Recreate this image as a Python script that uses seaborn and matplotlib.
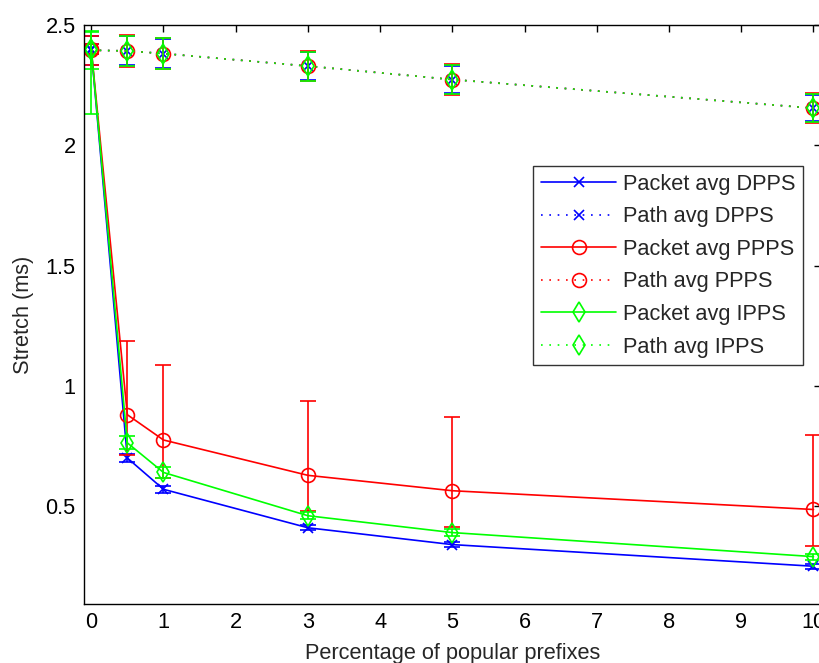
# Stretch vs percentage of popular prefixes (MATLAB-style errorbar chart)
import matplotlib
matplotlib.use("Agg")
import matplotlib.pyplot as plt
import seaborn as sns

# ------------------------------------------
# Data
# ------------------------------------------
x = [0, 0.5, 1, 3, 5, 10]

packet_dpps = [2.40, 0.70, 0.57, 0.41, 0.34, 0.25]
packet_dpps_err = [0.02, 0.017, 0.015, 0.01, 0.01, 0.01]
path_dpps = [2.396, 2.393, 2.382, 2.33, 2.274, 2.155]
path_dpps_err = [0.06, 0.06, 0.06, 0.058, 0.058, 0.055]

packet_ppps = [2.40, 0.88, 0.775, 0.628, 0.564, 0.486]
packet_ppps_lo = [0.02, 0.167, 0.157, 0.15, 0.149, 0.152]
packet_ppps_hi = [0.02, 0.308, 0.31, 0.308, 0.308, 0.308]
path_ppps = [2.396, 2.393, 2.382, 2.33, 2.274, 2.155]
path_ppps_err = [0.06, 0.065, 0.065, 0.063, 0.066, 0.063]

packet_ipps = [2.40, 0.763, 0.64, 0.46, 0.39, 0.29]
packet_ipps_lo = [0.27, 0.027, 0.023, 0.015, 0.015, 0.012]
packet_ipps_hi = [0.07, 0.027, 0.023, 0.015, 0.015, 0.012]
path_ipps = [2.396, 2.393, 2.382, 2.33, 2.274, 2.155]
path_ipps_err = [0.08, 0.063, 0.063, 0.06, 0.06, 0.057]

labels = ["Packet avg DPPS", "Path avg DPPS", "Packet avg PPPS",
          "Path avg PPPS", "Packet avg IPPS", "Path avg IPPS"]

# ------------------------------------------
# Style
# ------------------------------------------
sns.set_style("white")
plt.rcParams["font.family"] = ["Liberation Sans", "DejaVu Sans"]
plt.rcParams["font.size"] = 15.7

fig = plt.figure(figsize=(8.19, 6.63), dpi=100)
ax = fig.add_axes([0.1026, 0.089, 0.8995, 0.873])

dotted = (0, (1, 4))
series = [
    (packet_dpps, [packet_dpps_err, packet_dpps_err], "#0000ff", "x", "-"),
    (path_dpps, [path_dpps_err, path_dpps_err], "#0000ff", "x", dotted),
    (packet_ppps, [packet_ppps_lo, packet_ppps_hi], "#ff0000", "o", "-"),
    (path_ppps, [path_ppps_err, path_ppps_err], "#ff0000", "o", dotted),
    (packet_ipps, [packet_ipps_lo, packet_ipps_hi], "#00ff00", "d", "-"),
    (path_ipps, [path_ipps_err, path_ipps_err], "#00ff00", "d", dotted),
]

for (y, err, color, marker, ls), label in zip(series, labels):
    ax.errorbar(x, y, yerr=err, fmt="none", ecolor=color,
                elinewidth=1.2, capsize=6, capthick=1.2)
    sns.lineplot(x=x, y=y, ax=ax, color=color, linestyle=ls, linewidth=1.2,
                 marker=marker, markersize=10 if marker != "x" else 7,
                 markerfacecolor="none", markeredgecolor=color,
                 markeredgewidth=1.2, label=label)

# ------------------------------------------
# Axes
# ------------------------------------------
ax.set_xlim(-0.1, 10.1)
ax.set_ylim(0.093, 2.5)
ax.set_xticks(range(0, 11))
ax.set_yticks([0.5, 1, 1.5, 2, 2.5])
ax.set_yticklabels(["0.5", "1", "1.5", "2", "2.5"])
ax.tick_params(direction="in", length=5, width=1, top=True, right=True,
               colors="black", labelsize=15.7, pad=6)
for s in ax.spines.values():
    s.set_color("black")
    s.set_linewidth(1)

ax.set_xlabel("Percentage of popular prefixes", fontsize=15.7, labelpad=7)
ax.set_ylabel("Stretch (ms)", fontsize=15.7, labelpad=8)

leg = ax.legend(loc="upper left", bbox_to_anchor=(0.610, 0.7565),
                frameon=True, fancybox=False, fontsize=15.7,
                handlelength=3.45, borderpad=0.35, labelspacing=0.53,
                handletextpad=0.3, borderaxespad=0)
leg.get_frame().set_edgecolor("black")
leg.get_frame().set_linewidth(1)

fig.savefig("out.png", dpi=100)
